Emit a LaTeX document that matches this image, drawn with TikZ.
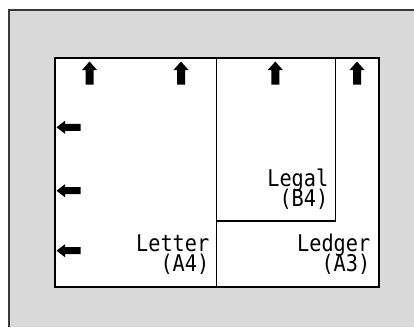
\documentclass[tikz,border=0pt]{standalone}
\usepackage{fontspec}
\newfontfamily\gothic[FakeStretch=0.88]{DejaVu Sans Mono}
\definecolor{panelgrey}{HTML}{D9D9D9}
\definecolor{edgegrey}{HTML}{3A3A3A}
\tikzset{
  uparr/.pic={\fill[black] (0,-11.5) -- (7.5,-3) -- (4,-3) -- (4,11.5) -- (-4,11.5) -- (-4,-3) -- (-7.5,-3) -- cycle;},
  leftarr/.pic={\fill[black] (-12,0) -- (-3.5,-6.5) -- (-3.5,-3.5) -- (12,-3.5) -- (12,3.5) -- (-3.5,3.5) -- (-3.5,6.5) -- cycle;},
  lbl/.style={inner sep=0pt, anchor=base east, text height=15pt, text depth=3pt,
    font=\gothic\fontsize{23}{23}\selectfont},
  frame/.style={draw=black, line width=2pt},
  divider/.style={draw=black, line width=1.5pt}
}
\begin{document}
\begin{tikzpicture}[x=1pt,y=-1pt]
\useasboundingbox (0,0) rectangle (414,327);
% grey panel
\fill[panelgrey] (9,10) rectangle (414,327);
\draw[edgegrey, line width=1.5pt] (9,327) -- (9,10) -- (414,10);
% paper area
\fill[white] (55,58) rectangle (379,287);
\draw[divider] (216.7,58) -- (216.7,287);
\draw[divider] (216.7,221) -- (335.7,221) -- (335.7,58);
\draw[frame] (55,58) rectangle (379,287);
% arrows
\pic at (89.5,73) {uparr};
\pic at (181,73) {uparr};
\pic at (275.3,73) {uparr};
\pic at (357,73) {uparr};
\pic at (68.5,127.3) {leftarr};
\pic at (68.5,190.7) {leftarr};
\pic at (68.5,250.7) {leftarr};
% labels
\node[lbl] (letter) at (209.5,251.7) {Letter};
\node[lbl] (letterb) at (209.5,271.5) {(A4)};
\node[lbl] (legal) at (328.5,186.7) {Legal};
\node[lbl] (legalb) at (328.5,206.3) {(B4)};
\node[lbl] (ledger) at (370.5,251.7) {Ledger};
\node[lbl] (ledgerb) at (370.5,271.5) {(A3)};
\end{tikzpicture}
\end{document}
